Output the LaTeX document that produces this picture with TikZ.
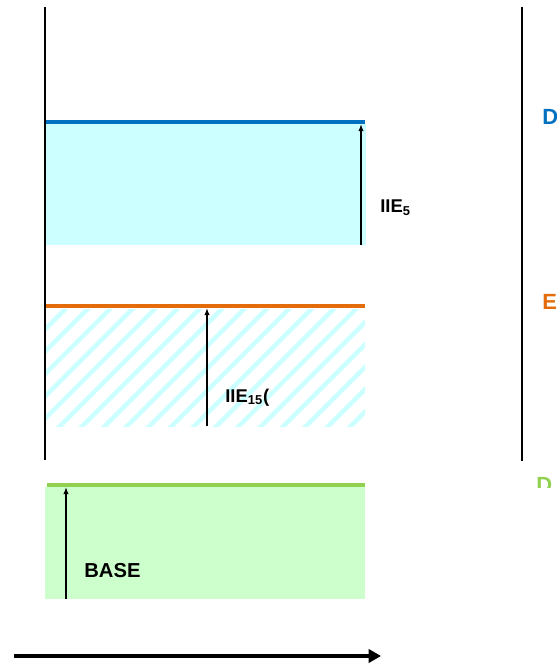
\documentclass[tikz,border=0pt]{standalone}
\usepackage{fontspec}
\setmainfont{Liberation Sans}
\usepackage{tikz}
\usetikzlibrary{arrows.meta,patterns.meta}

\definecolor{lvlblue}{HTML}{0070C0}
\definecolor{lvlorange}{HTML}{E46C0A}
\definecolor{lvlgreen}{HTML}{92D050}
\definecolor{fillcyan}{HTML}{CCFFFF}
\definecolor{fillgreen}{HTML}{CCFFCC}

\begin{document}
\begin{tikzpicture}[
  x=0.02cm, y=-0.02cm,
  font=\bfseries\fontsize{10.5}{12}\selectfont,
  axis/.style={line width=0.9pt},
  level/.style={line width=2.6pt},
  dim/.style={-{Latex[length=4pt,width=3pt]}, line width=0.7pt},
  lbl/.style={inner sep=0pt, anchor=base west},
  tag/.style={inner sep=0pt, anchor=north west, font=\bfseries\fontsize{12.5}{14}\selectfont},
  time/.style={-{Triangle[length=7pt,width=7.5pt]}, line width=2.3pt}
]
  \useasboundingbox (0,0) rectangle (556,665);

  % bands
  \fill[fillcyan] (46,124) rectangle (366,245);
  \fill[pattern={Lines[angle=45,distance=9pt,line width=2.6pt]}, pattern color=fillcyan]
    (46,309) rectangle (365,426);
  \fill[fillgreen] (45,487) rectangle (365,599);

  % time axes
  \draw[axis] (45,7) -- (45,460);
  \draw[axis] (522,7) -- (522,461);

  % level lines
  \draw[level, lvlblue] (46,122) -- (365,122);
  \draw[level, lvlorange] (46,306) -- (365,306);
  \draw[level, lvlgreen] (47,485) -- (365,485);

  % dimension arrows
  \coordinate (topbot) at (361,245);
  \coordinate (toptop) at (361,124);
  \coordinate (midbot) at (207,426);
  \coordinate (midtop) at (207,308);
  \coordinate (basebot) at (66,599);
  \coordinate (basetop) at (66,487);
  \draw[dim] (topbot) -- (toptop);
  \draw[dim] (midbot) -- (midtop);
  \draw[dim] (basebot) -- (basetop);

  \node[lbl] (iie5) at (380,213) {IIE\textsubscript{5}};
  \node[lbl] (iie15) at (225,402) {IIE\textsubscript{15}(};
  \node[lbl, font=\bfseries\fontsize{11.5}{13}\selectfont] (base) at (84,577) {BASE};

  % tags at right edge
  \node[tag, text=lvlblue] (tagd) at (542,109) {D};
  \node[tag, text=lvlorange] (tage) at (542,294) {E};
  \begin{scope}
    \clip (520,470) rectangle (556,487);
    \node[tag, text=lvlgreen] (tagg) at (536,477) {D};
  \end{scope}

  % time arrow
  \coordinate (tstart) at (14,656);
  \coordinate (tend) at (381,656);
  \draw[time] (tstart) -- (tend);
\end{tikzpicture}
\end{document}
